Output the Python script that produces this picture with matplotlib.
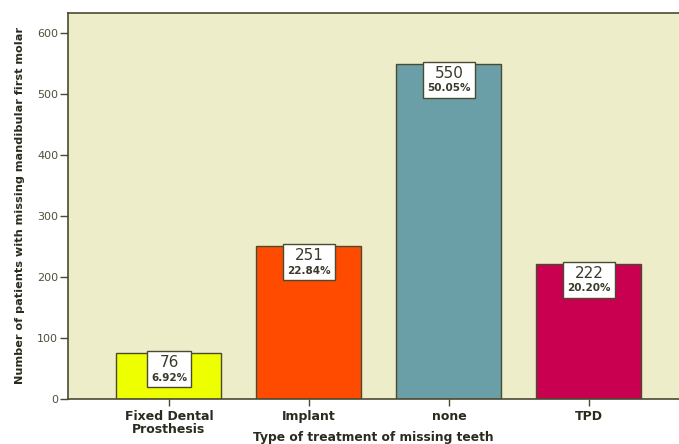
import matplotlib
matplotlib.use("Agg")
import matplotlib.pyplot as plt
from matplotlib.offsetbox import TextArea, VPacker, AnnotationBbox

categories = ["Fixed Dental\nProsthesis", "Implant", "none", "TPD"]
counts = [76, 251, 550, 222]
percents = ["6.92%", "22.84%", "50.05%", "20.20%"]
colors = ["#EEFF00", "#FF4B00", "#6B9FA8", "#C8004F"]
yticks = [0, 100, 200, 300, 400, 500, 600]

edge = "#4A4A32"
tick_col = "#4F4F3A"

fig = plt.figure(figsize=(6.79, 4.44), dpi=100)
ax = fig.add_axes([68 / 679, 45 / 444, 1 - 68 / 679, (399 - 13) / 444])
ax.set_facecolor("#EDEDC9")

x = list(range(len(categories)))
ax.bar(x, counts, width=0.75, color=colors, edgecolor=edge, linewidth=1.0, zorder=2)

for i, (c, p) in enumerate(zip(counts, percents)):
    t1 = TextArea(str(c), textprops=dict(fontsize=11, color="#3A3A2A"))
    t2 = TextArea(p, textprops=dict(fontsize=7.5, fontweight="bold", color="#3A3A2A"))
    pack = VPacker(children=[t1, t2], align="center", pad=0, sep=2)
    ab = AnnotationBbox(pack, (i, c), xybox=(0, -1.5), boxcoords="offset points",
                        box_alignment=(0.5, 1.0), frameon=True,
                        pad=0.3, bboxprops=dict(facecolor="white", edgecolor=edge, linewidth=1.0),
                        zorder=3)
    ax.add_artist(ab)

ax.set_xlim(-0.721, 3.643)
ax.set_ylim(0, 633)
ax.set_yticks(yticks)
ax.set_yticklabels([str(v) for v in yticks], fontsize=8, color=tick_col)
ax.set_xticks(x)
ax.set_xticklabels(categories, fontsize=9, fontweight="bold", color="#2A2A1E", linespacing=0.95)

ax.tick_params(axis="y", length=6, width=1, color=edge, pad=1)
ax.tick_params(axis="x", length=5, width=1, color=edge, pad=3)

for side in ["left", "top", "bottom"]:
    ax.spines[side].set_color(edge)
    ax.spines[side].set_linewidth(1.2)
ax.spines["right"].set_visible(False)

ax.set_ylabel("Number of patients with missing mandibular first molar",
              fontsize=8.1, fontweight="bold", color="#2A2A1E", labelpad=9)
ax.set_xlabel("Type of treatment of missing teeth", fontsize=8.8,
              fontweight="bold", color="#2A2A1E", labelpad=-3)

fig.savefig("out.png", dpi=100)
